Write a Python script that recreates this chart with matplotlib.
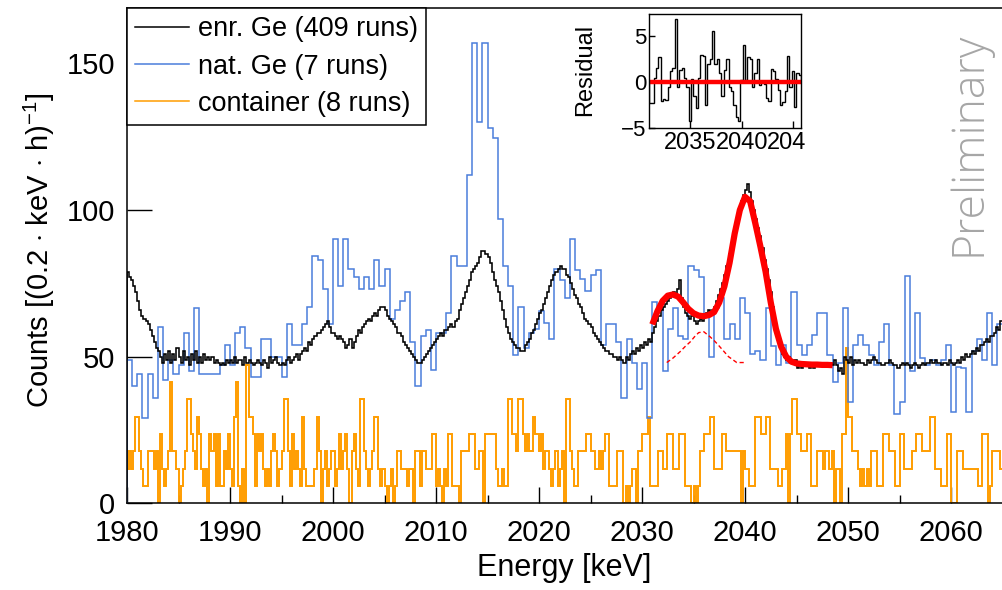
import numpy as np
import matplotlib
matplotlib.use("Agg")
import matplotlib.pyplot as plt
from matplotlib.lines import Line2D
from matplotlib.ticker import MultipleLocator
from matplotlib.transforms import Bbox, TransformedBbox

plt.rcParams['font.family'] = ['Liberation Sans', 'DejaVu Sans']
plt.rcParams['mathtext.fontset'] = 'custom'
plt.rcParams['mathtext.rm'] = 'Liberation Sans'
plt.rcParams['mathtext.it'] = 'Liberation Sans:italic'

# ---------------- DATA ----------------
e_lo, e_hi = 1980.0, 2065.0

# enr. Ge, 0.2 keV bins (5 per keV)
enr_ge = [
    79, 77, 76, 74, 72,  69, 66, 64, 63, 62,  61, 59, 57, 55, 53,  52, 50, 48, 51, 49,
    52, 48, 51, 49, 53,  50, 48, 52, 49, 50,  47, 51, 49, 52, 48,  50, 48, 51, 49, 50,
    49, 50, 48, 49, 48,  47, 48, 47, 49, 48,  49, 48, 50, 48, 49,  49, 47, 50, 48, 49,
    48, 47, 48, 49, 48,  47, 49, 48, 46, 50,  48, 49, 50, 48, 47,  48, 47, 49, 50, 48,
    49, 50, 51, 49, 51,  52, 53, 52, 55, 54,  56, 57, 58, 58, 59,  60, 61, 62, 60, 58,
    58, 57, 56, 57, 56,  55, 53, 54, 56, 53,  55, 57, 59, 58, 60,  61, 62, 63, 62, 64,
    65, 64, 66, 67, 67,  66, 64, 63, 62, 61,  60, 58, 58, 57, 55,  54, 53, 52, 51, 50,
    49, 48, 48, 49, 50,  51, 52, 53, 54, 55,  56, 57, 58, 57, 59,  59, 60, 61, 60, 62,
    63, 66, 68, 70, 72,  74, 76, 79, 80, 81,  82, 84, 86, 86, 85,  84, 82, 79, 76, 74,
    72, 69, 66, 63, 60,  58, 56, 55, 54, 53,  53, 52, 52, 54, 55,  56, 58, 59, 61, 63,
    65, 66, 68, 70, 72,  74, 76, 78, 79, 80,  81, 80, 80, 78, 77,  75, 73, 71, 70, 68,
    67, 65, 63, 62, 61,  60, 58, 57, 56, 55,  54, 53, 52, 52, 51,  51, 50, 50, 49, 50,
    49, 48, 50, 49, 51,  52, 51, 53, 52, 54,  53, 55, 54, 56, 55,  58, 60, 62, 64, 66,
    67, 68, 69, 70, 71,  72, 71, 73, 76, 70,  67, 65, 64, 63, 64,  62, 61, 62, 63, 62,
    64, 65, 66, 65, 66,  67, 69, 71, 73, 75,  78, 81, 85, 88, 91,  94, 97, 100, 103, 105,
    107, 109, 106, 103, 100,  97, 94, 91, 87, 83,  80, 76, 72, 67, 63,  59, 55, 53, 51, 50,
    49, 50, 49, 48, 49,  46, 47, 46, 47, 48,  47, 46, 47, 46, 47,  48, 47, 47, 48, 47,
    48, 48, 47, 49, 47,  45, 46, 44, 50, 49,  48, 50, 47, 49, 48,  49, 48, 48, 47, 49,
    48, 49, 50, 49, 48,  48, 47, 47, 48, 48,  49, 48, 47, 47, 46,  47, 48, 47, 48, 47,
    46, 47, 48, 47, 46,  47, 48, 47, 48, 48,  49, 48, 49, 48, 48,  47, 48, 48, 47, 49,
    48, 47, 48, 49, 48,  50, 49, 51, 50, 51,  52, 51, 53, 52, 54,  54, 55, 56, 55, 57,
    57, 58, 60, 59, 62,
]

# nat. Ge, 0.5 keV bins
nat_ge = [
    49, 40, 44, 29, 44, 36, 60, 42, 49, 44,
    47, 58, 45, 66.5, 44, 44, 44, 44, 47, 54,
    47, 58, 60, 53, 43, 43, 56, 56, 50, 50,
    43, 61, 54, 54, 61, 67, 84.5, 83, 73, 61,
    90, 74, 90, 80, 77, 73, 77, 73, 83, 74,
    80, 63, 66, 69, 72, 55, 40, 57, 59, 45.5,
    58, 58, 65, 84.5, 81, 81, 112, 157, 130, 157,
    128, 124.5, 97, 81, 74, 50.5, 67, 53, 58, 59.5,
    65.5, 61.5, 56, 80, 76, 70, 90, 79.5, 76.5, 72.5,
    78, 79.5, 54, 61, 61, 55, 36, 56, 48, 39,
    48, 29, 68.5, 67, 45, 59.5, 66.5, 57, 56, 81,
    79.5, 77, 64, 50, 66.5, 70, 56, 61, 56, 70,
    65, 51, 52, 49, 66.5, 53.5, 47, 54, 48, 72,
    54, 50.5, 54, 57.5, 65, 65, 50.5, 41.5, 48, 66.5,
    34.5, 54, 57.5, 54, 50.5, 47, 55, 61, 47, 30.5,
    34.5, 77.5, 45, 65, 49.5, 47, 49, 47, 49, 54,
    31, 46.5, 46, 31, 52, 56, 49, 65, 47, 61,
]

# container, 0.2 keV bins, raw counts (5 per keV)
container_counts = [
    2, 3, 2, 3, 5,  5, 3, 2, 1, 1,  3, 3, 3, 2, 3,  0, 4, 2, 1, 2,  3, 7, 3, 3, 2,
    0, 1, 2, 3, 6,  6, 4, 3, 2, 5,  4, 2, 1, 2, 0,  4, 3, 4, 1, 4,  1, 1, 3, 2, 4,
    2, 1, 5, 7, 1,  0, 2, 0, 8, 5,  5, 4, 1, 4, 3,  4, 2, 1, 2, 1,  3, 4, 3, 1, 2,
    3, 6, 6, 3, 1,  4, 2, 3, 2, 1,  5, 2, 1, 1, 1,  1, 2, 5, 3, 0,  2, 3, 1, 2, 3,
    3, 1, 2, 4, 2,
    3, 4, 2, 0, 3,  4, 2, 1, 6, 6,  3, 2, 1, 2, 3,  5, 5, 2, 1, 2,  1, 0, 1, 2, 0,
    1, 3, 3, 2, 2,  2, 1, 2, 2, 0,  3, 3, 1, 3, 3,  2, 2, 2, 4, 4,  1, 2, 1, 0, 2,
    1, 4, 4, 1, 1,  1, 0, 3, 3, 3,  3, 4, 4, 4, 2,  2, 3, 3, 0, 4,  4, 4, 4, 4, 2,
    1, 1, 2, 1, 1,  6, 6, 4, 4, 3,  6, 6, 4, 3, 4,  3, 3, 5, 4, 4,  3, 4, 2, 3, 3,
    2, 1, 2, 3, 1,  2, 3, 0, 6, 6,  3, 2, 1, 1, 3,  3, 3, 3, 4, 4,  3, 3, 2, 2, 3,
    2, 3, 4, 4, 1,  1, 1, 1, 3, 3,  3, 0, 1, 0, 1,  2, 2, 0, 3, 3,  4, 4, 4, 5, 1,
    1, 1, 1, 3, 3,  2, 2, 4, 4, 4,  2, 2, 2, 4, 4,  4, 1, 1, 1, 0,  1, 0, 1, 3, 3,
    4, 4, 4, 5, 5,  2, 2, 2, 2, 4,  4, 3, 3, 3, 3,  3, 3, 3, 0, 3,  2, 2, 1, 1, 1,
    5, 5, 5, 4, 4,  5, 5, 2, 2, 2,  2, 1, 1, 2, 2,  4, 0, 4, 6, 6,  4, 4, 3, 3, 3,
    4, 4, 1, 1, 1,  3, 3, 3, 2, 3,  3, 2, 3, 0, 2,  2, 0, 4, 4, 9,  5, 5, 3, 3, 3,
    2, 1, 2, 1, 2,  1, 3, 3, 3, 1,  1, 1, 4, 4, 4,  3, 3, 3, 1, 1,  4, 4, 2, 2, 2,
    2, 3, 3, 4, 4,  4, 3, 3, 3, 3,  5, 5, 2, 2, 2,  1, 1, 1, 4, 4,  0, 0, 0, 3, 3,
    3, 2, 2, 2, 2,  2, 2, 2, 1, 1,  4, 4, 4, 0, 1,  3, 3, 3, 3, 2,
]
container_rate = 5.9  # counts -> (0.2 keV h)^-1

# fit curve
fit_energy = np.arange(2031.0, 2048.51, 0.5)
fit_vals = [61, 65.5, 69, 70.8, 71.2, 70.5, 68.5, 66.3, 64.8, 64.0,
            63.8, 64.2, 65.2, 68.5, 74, 82, 92, 100, 104.5, 103,
            95.5, 87.5, 79, 68.5, 59.5, 53.5, 50, 48.3, 47.7, 47.5,
            47.4, 47.3, 47.3, 47.2, 47.2, 47.1]

# one fit component (dashed)
comp_energy = [2032.4, 2033.0, 2033.7, 2034.2, 2034.7, 2035.1, 2035.5, 2036.0,
               2036.6, 2037.0, 2037.4, 2037.9, 2038.4, 2039.2, 2040.0]
comp_vals = [48, 49.5, 51.7, 53.5, 55.1, 56.8, 58.2, 58.5,
             56.8, 55.5, 54, 52, 50, 48, 48]

# residuals (inset)
res_lo, res_hi = 2031.0, 2045.75
residuals = [-2.3, -2.3, 0.5, 1.5, 2.7, -2.0, -1.8, -1.9, -0.5, 1.2,
             1.5, 6.8, -0.5, 1.3, 1.5, 0.5, -0.5, -4.2, 0.3, -1.5,
             -2.8, 0.5, 3.0, 2.8, -2.5, 2.0, 2.5, 5.5, 2.0, 2.5,
             1.0, -1.5, 1.3, 2.5, -0.5, -1.0, -2.5, -3.8, -4.2, 0.2,
             4.0, 0.2, 2.7, 2.5, -0.5, 1.0, 2.5, -0.3, 0.1, -0.2,
             -1.7, -2.0, 1.4, 1.2, 0.3, -0.8, -2.5, -2.2, -1.0, 2.8,
             -0.5, 1.2, -2.7, 1.0, 0.8]

labels = ["enr. Ge (409 runs)", "nat. Ge (7 runs)", "container (8 runs)"]
c_enr, c_nat, c_cont = "black", "#4a7ddb", "#ff9d00"

# ---------------- FIGURE ----------------
fig = plt.figure(figsize=(10.02, 5.90), dpi=100)
ax = fig.add_axes([127 / 1002, 86.7 / 590, 875.5 / 1002, 495.3 / 590])

edges_02 = np.linspace(e_lo, e_hi, len(enr_ge) + 1)
edges_05 = np.linspace(e_lo, e_hi, len(nat_ge) + 1)
cont = np.array(container_counts) * container_rate

ax.stairs(cont, edges_02, color=c_cont, lw=1.4, zorder=2)
ax.stairs(nat_ge, edges_05, color=c_nat, lw=1.1, zorder=3)
ax.stairs(enr_ge, edges_02, color=c_enr, lw=1.15, zorder=4)
ax.plot(comp_energy, comp_vals, color="red", lw=1.0, ls=(0, (3, 2)), zorder=5)
ax.plot(fit_energy, fit_vals, color="red", lw=4.5, solid_joinstyle="round",
        solid_capstyle="butt", zorder=6)

ax.set_xlim(e_lo, e_hi)
ax.set_ylim(0, 168.9)
ax.set_xticks(np.arange(1980, 2061, 10))
ax.xaxis.set_minor_locator(MultipleLocator(5))
ax.set_yticks([0, 50, 100, 150])
ax.tick_params(axis="x", which="major", direction="in", length=11.5, width=1,
               labelsize=21, pad=11)
ax.tick_params(axis="x", which="minor", direction="in", length=5.8, width=1)
ax.tick_params(axis="y", which="major", direction="in", length=18, width=1,
               labelsize=21, pad=8.5)
for s in ax.spines.values():
    s.set_linewidth(1.1)

ax.set_xlabel("Energy [keV]", fontsize=22)
ax.xaxis.set_label_coords(0.499, -0.10)
ax.set_ylabel(r"Counts [(0.2 $\cdot$ keV $\cdot$ h)$^{-1}$]", fontsize=21)
ax.yaxis.set_label_coords(-0.08, 0.511)

handles = [Line2D([], [], color=c, lw=1.1) for c in (c_enr, c_nat, c_cont)]
leg = ax.legend(handles, labels, loc="upper left", bbox_to_anchor=(0, 1),
                borderaxespad=0, fontsize=19.5, frameon=True, fancybox=False,
                edgecolor="black", framealpha=1, handlelength=2.0,
                handletextpad=0.33, labelspacing=0.42, borderpad=0.3)
leg.get_frame().set_linewidth(1.1)
leg.set_zorder(10)

fig.text(969 / 1002, 1 - 144 / 590, "Preliminary", rotation=90, color="#a6a6a6",
         fontsize=32, ha="center", va="center", family="Open Sans", weight="light")

# ---------------- INSET ----------------
axin = fig.add_axes([649 / 1002, 1 - 128.3 / 590, 152 / 1002, 114 / 590])
res_edges = np.linspace(res_lo, res_hi, len(residuals) + 1)
axin.stairs(residuals, res_edges, color="black", lw=1.0)
axin.plot([res_lo, res_hi], [0, 0], color="red", lw=3.2)
axin.set_xlim(res_lo, res_hi)
axin.set_ylim(-5, 7.36)
axin.set_xticks([2035, 2040, 2045])
axin.set_yticks([-5, 0, 5])
axin.tick_params(axis="x", direction="in", length=5, width=1, labelsize=17, pad=3)
axin.tick_params(axis="y", direction="in", length=4, width=1, labelsize=16, pad=2)
for s in axin.spines.values():
    s.set_linewidth(1.0)
clip = TransformedBbox(Bbox.from_extents(0, 0, 805 / 1002, 1), fig.transFigure)
for lbl in axin.get_xticklabels():
    lbl.set_clip_on(True)
    lbl.set_clip_box(clip)
fig.text(585 / 1002, 1 - 70 / 590, "Residual", rotation=90, fontsize=17,
         ha="center", va="center")

fig.savefig("out.png", dpi=100)
